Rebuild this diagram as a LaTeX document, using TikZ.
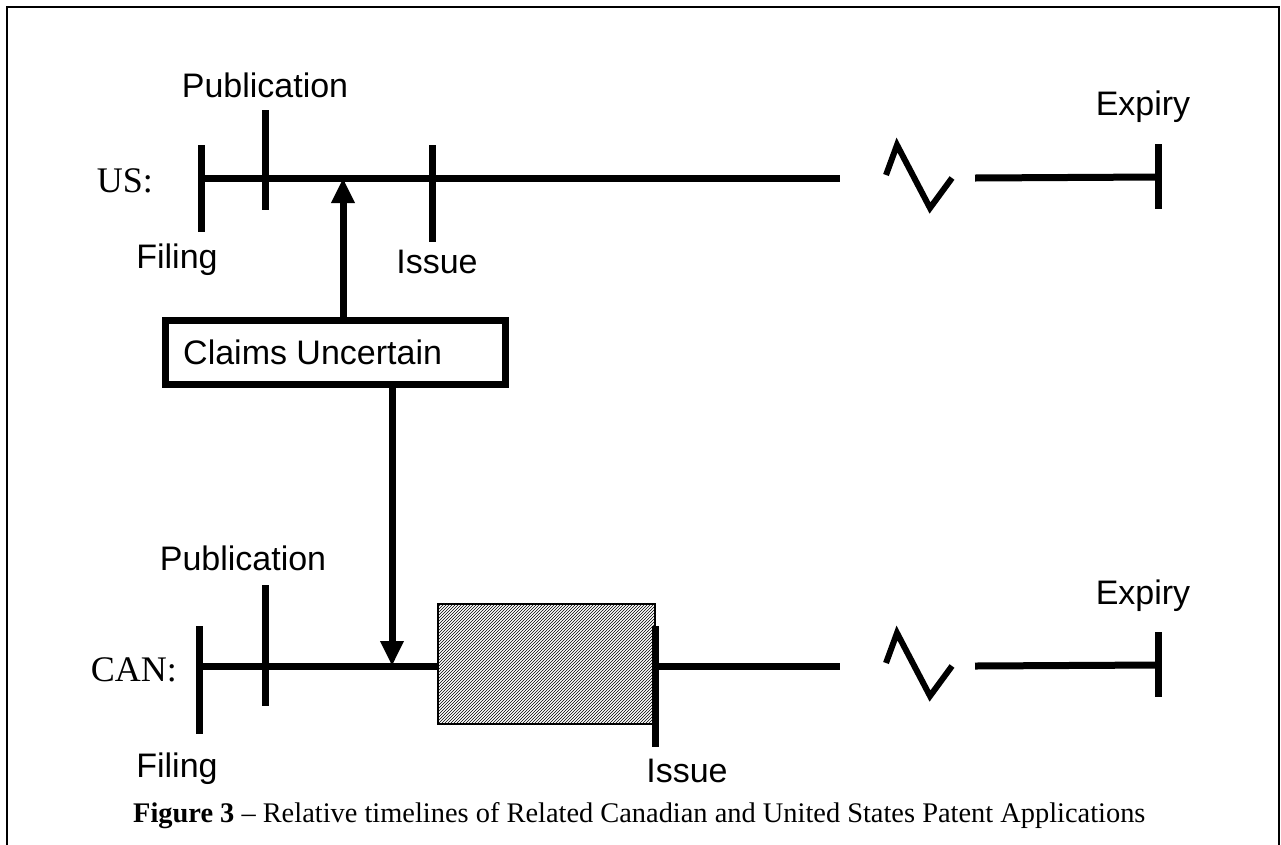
\documentclass[tikz,border=0pt]{standalone}
\usepackage{fontspec}
\setmainfont{Liberation Serif}
\newfontfamily\arialf{Liberation Sans}
\usetikzlibrary{arrows.meta,patterns}
\begin{document}
\begin{tikzpicture}[x=1pt,y=-1pt,
  tl/.style={line width=7pt},
  zz/.style={line width=6pt,line join=miter},
  lbl/.style={font=\arialf\fontsize{34}{40}\selectfont,inner sep=0pt},
  cty/.style={font=\fontsize{36}{40}\selectfont,inner sep=0pt,anchor=east},
  arr/.style={line width=7pt,-{Triangle[width=22pt,length=25pt]}},
  cbox/.style={draw,line width=7pt,minimum width=340pt,minimum height=64pt,inner sep=0pt}]
\useasboundingbox (0,0) rectangle (1281,844);
\draw[line width=1.5pt] (7,860) -- (7,7) -- (1279,7) -- (1279,860);

% ---------- US timeline ----------
\coordinate (usF) at (201,178);
\coordinate (usB) at (840,178);
\coordinate (usC) at (975,178);
\coordinate (usX) at (1158,177);
\coordinate (usA) at (343,178);
\draw[tl] (usF) -- (usB);
\draw[tl] (usC) -- (usX);
\draw[tl] (201,145) -- (201,232);
\draw[tl] (265,110) -- (265,210);
\draw[tl] (432,145) -- (432,242);
\draw[tl] (1158,144) -- (1158,209);
\draw[zz] (886,175) -- (897,145) -- (930,208) -- (952,178);
\node[cty] (usl) at (153,181) {US:};
\node[lbl] (usp) at (265,85) {Publication};
\node[lbl] (usf) at (177,260) {Filing};
\node[lbl] (usi) at (437,262) {Issue};
\node[lbl] (use) at (1143,107) {Expiry};

% ---------- Claims box ----------
\node[cbox] (claims) at (335,352) {};
\node[lbl,anchor=west] (claimst) at (183,352) {Claims Uncertain};
\coordinate (cTop) at (343,317);
\coordinate (cBot) at (392,387);

% ---------- CAN timeline ----------
\coordinate (caF) at (199,666);
\coordinate (caH) at (438,666);
\coordinate (caI) at (655,666);
\coordinate (caB) at (840,666);
\coordinate (caC) at (975,666);
\coordinate (caX) at (1158,665);
\coordinate (caA) at (392,666);
\draw[tl] (caF) -- (caH);
\draw[tl] (caI) -- (caB);
\draw[tl] (caC) -- (caX);
\draw[line width=1.5pt,pattern=north east lines] (438,604) rectangle (655,724);
\draw[tl] (199,626) -- (199,734);
\draw[tl] (265,585) -- (265,706);
\draw[tl] (655,626) -- (655,747);
\draw[tl] (1158,632) -- (1158,697);
\draw[zz] (886,663) -- (897,633) -- (930,696) -- (952,666);
\node[cty] (canl) at (177,670) {CAN:};
\node[lbl] (canp) at (243,558) {Publication};
\node[lbl] (canf) at (177,769) {Filing};
\node[lbl] (cani) at (687,771) {Issue};
\node[lbl] (cane) at (1143,596) {Expiry};

% ---------- arrows ----------
\draw[arr] (cTop) -- (usA);
\draw[arr] (cBot) -- (caA);

% ---------- caption ----------
\node[font=\fontsize{28.4}{34}\selectfont,inner sep=0pt,anchor=west] (cap) at (133,816)
  {\textbf{Figure 3} -- Relative timelines of Related Canadian and United States Patent Applications};
\end{tikzpicture}
\end{document}
